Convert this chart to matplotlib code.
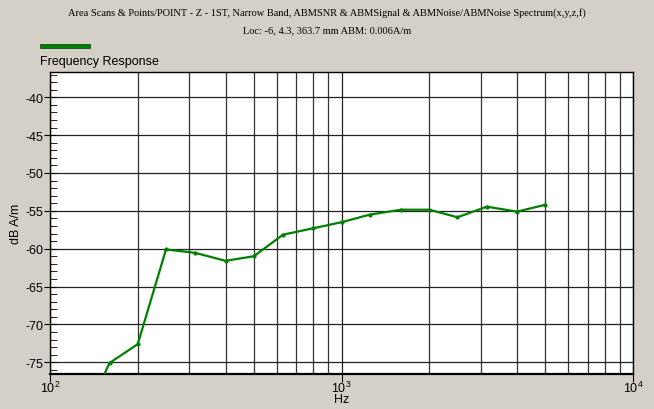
import matplotlib
matplotlib.use("Agg")
import matplotlib.pyplot as plt
from matplotlib.ticker import FixedLocator, MultipleLocator, LogLocator, NullFormatter

plt.rcParams["font.family"] = ["Liberation Sans", "DejaVu Sans"]
plt.rcParams["mathtext.fontset"] = "custom"
plt.rcParams["mathtext.rm"] = "Liberation Sans"
plt.rcParams["axes.unicode_minus"] = False

# 1/3 octave bands
freqs = [125, 160, 200, 250, 315, 400, 500, 630, 800, 1000,
         1250, 1600, 2000, 2500, 3150, 4000, 5000]
levels = [-84.0, -75.1, -72.6, -60.1, -60.55, -61.6, -61.0, -58.15, -57.3, -56.5,
          -55.5, -54.85, -54.85, -55.85, -54.45, -55.1, -54.2]

title1 = "Area Scans & Points/POINT - Z - 1ST, Narrow Band, ABMSNR & ABMSignal & ABMNoise/ABMNoise Spectrum(x,y,z,f)"
title2 = "Loc: -6, 4.3, 363.7 mm ABM: 0.006A/m"
series_name = "Frequency Response"

bg = "#D4D0C8"
green = "#008000"

fig = plt.figure(figsize=(6.54, 4.10), dpi=100, facecolor=bg)
ax = fig.add_axes([50/654, 1 - 375/410, 583/654, 302/410])
ax.set_facecolor("white")

ax.plot(freqs, levels, color=green, lw=1.6, marker="o", markersize=2, zorder=3)

ax.set_xscale("log")
ax.set_xlim(100, 10000)
ax.set_ylim(-76.55, -36.66)

ax.xaxis.set_major_locator(FixedLocator([100, 1000, 10000]))
ax.xaxis.set_minor_locator(LogLocator(base=10, subs=range(2, 10)))
ax.xaxis.set_minor_formatter(NullFormatter())
ax.set_xticklabels([r"$10^{2}$", r"$10^{3}$", r"$10^{4}$"])

ax.yaxis.set_major_locator(MultipleLocator(5))
ax.yaxis.set_minor_locator(MultipleLocator(1))

ax.grid(which="major", axis="both", color="#222222", lw=0.9)
ax.grid(which="minor", axis="x", color="#333333", lw=0.9)

ax.tick_params(axis="x", which="major", direction="out", length=6, labelsize=9, pad=-2)
ax.tick_params(axis="x", which="minor", length=0)
ax.tick_params(axis="y", which="major", direction="inout", length=8, labelsize=9, pad=1)
ax.tick_params(axis="y", which="minor", direction="in", length=5)
ax.tick_params(right=False, top=False)

for s in ax.spines.values():
    s.set_color("black")
    s.set_linewidth(1.0)
ax.spines["bottom"].set_linewidth(1.6)

ax.set_xlabel("Hz", fontsize=9, labelpad=-1)
ax.set_ylabel("dB A/m", fontsize=9, labelpad=2)

fig.text(0.5, 1 - 13/410, title1, ha="center", va="center", fontsize=7.5,
         family="Liberation Serif")
fig.text(0.5, 1 - 31/410, title2, ha="center", va="center", fontsize=7.5,
         family="Liberation Serif")

fig.patches.append(plt.Rectangle((40/654, 1 - 49/410), 50/654, 4/410,
                                 transform=fig.transFigure, facecolor=green,
                                 edgecolor="#004000", lw=0.5))
fig.text(40/654, 1 - 62/410, series_name, ha="left", va="center", fontsize=9)

fig.savefig("out.png", dpi=100, facecolor=bg)
